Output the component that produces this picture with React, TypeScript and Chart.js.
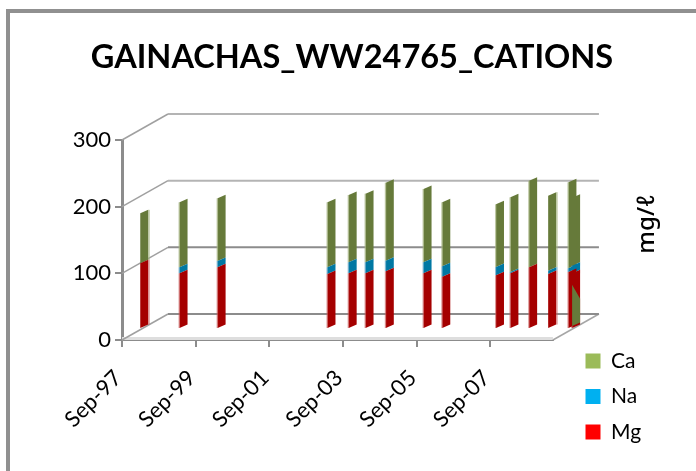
import React, { useEffect, useRef } from "react";
import { Chart, registerables } from "chart.js";

Chart.register(...registerables);

const chartTitle = "GAINACHAS_WW24765_CATIONS";
const unitLabel = "mg/ℓ";
const tickLabels = ["Sep-97", "Sep-99", "Sep-01", "Sep-03", "Sep-05", "Sep-07"];
const sampleMonths = [0.5, 13.3, 25.7, 61.5, 68.4, 73.9, 80.5, 92.8, 98.9, 116.4, 121.1, 127.2, 133.4, 140, 141.2];
const mgValues = [97, 82, 91, 81, 82, 82, 85, 82, 77, 79, 82, 91, 81, 84, 82];
const naValues = [0, 9, 9.5, 10, 16.5, 16.5, 16, 16.5, 15.5, 12.5, 2, 0, 5, 5.5, 11.5];
const caValues = [75, 97.5, 94, 97.5, 101, 103, 117, 110, 96, 94, 112, 130, 112.5, 129, 102];
const residueMonth = 141.2;
const residueRange: [number, number] = [3, 65];

const MONTHS_PER_TICK = 24;
const AXIS_MONTHS = 140.4;
const DEPTH_MONTHS = 6.75;
const DEPTH_VALUE = 18;
const WALL_DX = 46;
const WALL_DY = 26;
const GRID = "#8c8c8c";
const sideColors: Record<string, string> = { Mg: "#a50000", Na: "#0078a3", Ca: "#667a3a" };
const frontColors: Record<string, string> = { Mg: "rgba(200,90,90,0.6)", Na: "rgba(70,150,190,0.6)", Ca: "rgba(165,180,130,0.7)" };

const line = (ctx: CanvasRenderingContext2D, x1: number, y1: number, x2: number, y2: number, color: string, w: number) => {
  ctx.strokeStyle = color;
  ctx.lineWidth = w;
  ctx.beginPath();
  ctx.moveTo(x1, y1);
  ctx.lineTo(x2, y2);
  ctx.stroke();
};

const frame3d = {
  id: "frame3d",
  afterLayout(chart: any) {
    const leg = chart.legend;
    leg.left = 571;
    leg.right = 690;
    leg.top = 336;
    leg.bottom = 470;
    const t = chart.titleBlock;
    t.left = 8;
    t.right = 696;
    t.top = 8;
    t.bottom = 76;
    const unit = chart.scales.yUnit;
    unit.left = 633;
    unit.right = 660;
    unit.top = 109;
    unit.bottom = 339;
  },
  beforeDatasetsDraw(chart: any) {
    const { ctx } = chart;
    const x = chart.scales.x;
    const y = chart.scales.y;
    const l = x.left;
    const r = x.right;
    ctx.save();
    // outer frame of the chart
    line(ctx, 8, 471, 8, 11, "#909090", 4);
    line(ctx, 6, 11, 696, 11, "#909090", 4);
    // floor
    line(ctx, l, y.bottom - 1.5, r, y.bottom - 1.5, "#dedede", 3);
    line(ctx, r, y.bottom, r + WALL_DX, y.bottom - WALL_DY, "#a6a6a6", 1.5);
    for (const v of [0, 100, 200, 300]) {
      const py = y.getPixelForValue(v);
      const color = v >= 200 ? "#b4b4b4" : GRID;
      line(ctx, l, py, l + WALL_DX, py - WALL_DY, "#a0a0a0", 1.5);
      line(ctx, l + WALL_DX, py - WALL_DY, r + WALL_DX, py - WALL_DY, color, 2);
    }
    ctx.restore();
  },
  beforeDatasetDraw(chart: any, args: any) {
    const { ctx } = chart;
    const meta = args.meta;
    const label = meta.label;
    const isResidue = label === "residue";
    const slant = isResidue ? -14 : 3.5;
    ctx.save();
    for (let i = meta.data.length - 1; i >= 0; i--) {
      const bar = meta.data[i];
      const left = bar.x - bar.width / 2;
      const right = bar.x + bar.width / 2;
      if (Math.abs(bar.base - bar.y) < 0.5) continue;
      const side = isResidue ? sideColors.Ca : sideColors[label];
      ctx.fillStyle = side;
      ctx.beginPath();
      ctx.moveTo(left, bar.y);
      ctx.lineTo(right, bar.y - slant);
      ctx.lineTo(right, bar.base - 3.5);
      ctx.lineTo(left, bar.base);
      ctx.closePath();
      ctx.fill();
      if (!isResidue) {
        const stripOnRight = i === 0 || i === 12;
        ctx.fillStyle = frontColors[label];
        const sx = stripOnRight ? right : left - 1;
        ctx.fillRect(sx, bar.y - (stripOnRight ? slant : 0), 1.5, bar.base - bar.y);
      }
    }
    ctx.restore();
    return false;
  },
};

const toPoints = (values: number[]) => values.map((y, i) => ({ x: sampleMonths[i], y }));

export default function App() {
  const ref = useRef<HTMLCanvasElement>(null);
  useEffect(() => {
    const chart = new Chart(ref.current!, {
      type: "bar",
      data: {
        datasets: [
          { label: "residue", data: [{ x: residueMonth, y: residueRange }], stack: "trace", backgroundColor: "#667a3a" },
          { label: "Mg", data: toPoints(mgValues), backgroundColor: "#ff0000" },
          { label: "Na", data: toPoints(naValues), backgroundColor: "#00b0f0" },
          { label: "Ca", data: toPoints(caValues), backgroundColor: "#9bbb59" },
        ].map((d) => ({ ...d, xAxisID: "xBars", yAxisID: "yBars", barThickness: 8, grouped: false, clip: false })) as any,
      },
      plugins: [frame3d],
      options: {
        animation: false,
        responsive: false,
        layout: { padding: { left: 0, right: 63, top: 71, bottom: 0 } },
        plugins: {
          tooltip: { enabled: false },
          title: {
            display: true,
            text: chartTitle,
            color: "#000000",
            font: { family: "Lato", size: 32.5, weight: "bold" },
            padding: { top: 30, bottom: 0 },
          },
          legend: {
            position: "right",
            align: "start",
            reverse: true,
            labels: {
              boxWidth: 15,
              boxHeight: 15,
              padding: 14.5,
              color: "#000000",
              font: { family: "Lato", size: 21 },
              filter: (item: any) => item.text !== "residue",
            },
          },
        },
        scales: {
          x: {
            type: "linear",
            position: "bottom",
            offset: false,
            min: 0,
            max: AXIS_MONTHS,
            afterFit: (s: any) => { s.height = 131; },
            afterBuildTicks: (s: any) => {
              s.ticks = tickLabels.map((_, i) => ({ value: i * MONTHS_PER_TICK }));
            },
            ticks: {
              autoSkip: false,
              maxRotation: 45,
              minRotation: 45,
              color: "#000000",
              font: { family: "Lato", size: 22 },
              padding: 18,
              labelOffset: -4,
              callback: (v: any) => tickLabels[Math.round(Number(v) / MONTHS_PER_TICK)],
            },
            grid: { offset: false, drawOnChartArea: false, drawTicks: true, tickLength: 7, color: GRID, lineWidth: 2 },
            border: { color: GRID, width: 2 },
          },
          y: {
            position: "left",
            weight: 1,
            min: 0,
            max: 300,
            afterFit: (s: any) => { s.width = 122; },
            ticks: { stepSize: 100, color: "#000000", font: { family: "Lato", size: 22 }, padding: 4 },
            grid: { drawOnChartArea: false, drawTicks: true, tickLength: 7, color: GRID, lineWidth: 2 },
            border: { color: GRID, width: 3 },
          },
          yUnit: {
            position: "left",
            weight: 2,
            min: 0,
            max: 300,
            afterFit: (s: any) => { s.width = 0; },
            ticks: { display: false },
            grid: { display: false },
            border: { display: false },
            title: {
              display: true,
              text: unitLabel,
              color: "#000000",
              font: { family: "'Noto Sans', 'DejaVu Sans'", size: 24, weight: "500" },
              padding: { top: 0, bottom: 0 },
            },
          },
          xBars: { type: "linear", display: false, offset: false, min: -DEPTH_MONTHS, max: AXIS_MONTHS - DEPTH_MONTHS },
          yBars: { display: false, stacked: true, min: -DEPTH_VALUE, max: 300 - DEPTH_VALUE },
        },
      } as any,
    });
    return () => chart.destroy();
  }, []);
  return (
    <div style={{ position: "fixed", left: 0, top: 0, width: 696, height: 471, background: "#ffffff" }}>
      <canvas ref={ref} width={696} height={471} style={{ display: "block" }} />
    </div>
  );
}
